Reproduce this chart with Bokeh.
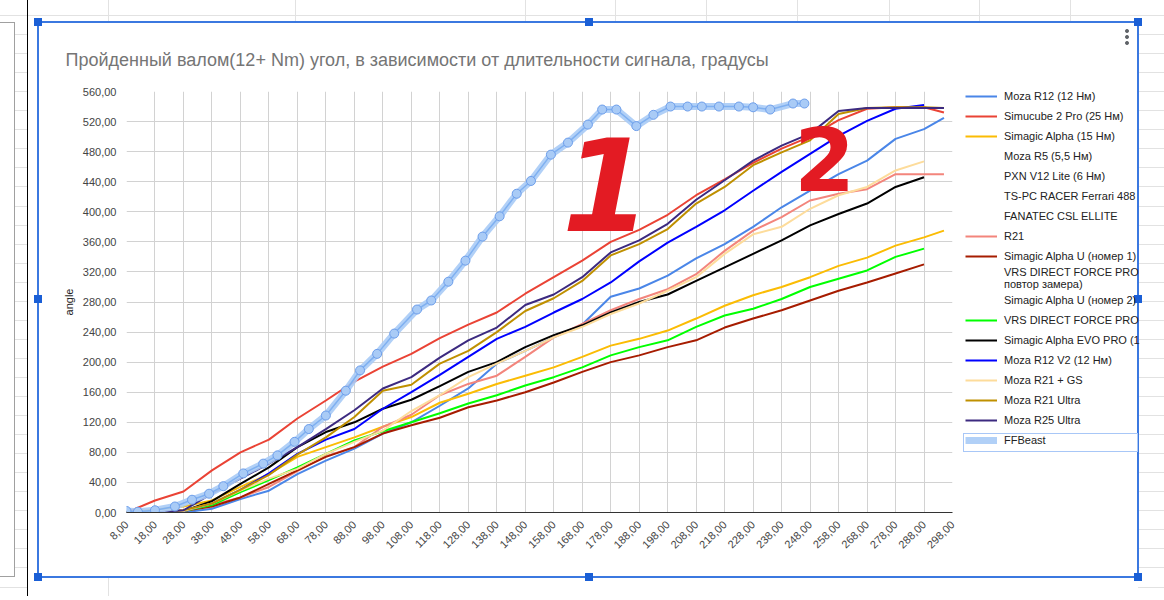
import math
from bokeh.plotting import figure
from bokeh.models import Range1d, FixedTicker, Legend, LegendItem, Label
from bokeh.embed import file_html
from bokeh.resources import INLINE

# ---------------- data ----------------
title_text = "Пройденный валом(12+ Nm) угол, в зависимости от длительности сигнала, градусы"
x_ticks = [8, 18, 28, 38, 48, 58, 68, 78, 88, 98, 108, 118, 128, 138, 148, 158, 168, 178,
           188, 198, 208, 218, 228, 238, 248, 258, 268, 278, 288, 298]
y_ticks = [0, 40, 80, 120, 160, 200, 240, 280, 320, 360, 400, 440, 480, 520, 560]

duration = [8, 18, 28, 38, 48, 58, 68, 78, 88, 98, 108, 118, 128, 138, 148, 158, 168, 178,
            188, 198, 208, 218, 228, 238, 248, 258, 268, 278, 288]
duration_long = [8, 18, 28, 38, 48, 58, 68, 78, 88, 98, 108, 118, 128, 138, 148, 158, 168, 178,
                 188, 198, 208, 218, 228, 238, 248, 258, 268, 278, 288, 295]

moza_r12 = [0, 0, 0, 5, 18, 29, 51, 69, 85, 105, 120, 142, 165, 198, 215, 233, 250, 287, 298, 315,
            338, 357, 380, 406, 428, 450, 468, 497, 510, 525]
simucube = [0, 16, 28, 56, 80, 97, 125, 149, 174, 194, 211, 232, 250, 266, 291, 313, 335, 360, 376, 396,
            422, 443, 465, 484, 500, 522, 537, 539, 539, 532]
simagic_alpha = [0, 4, 8, 16, 34, 51, 74, 87, 100, 114, 127, 146, 158, 171, 182, 193, 207, 222, 231, 242,
                 258, 275, 289, 300, 313, 328, 339, 355, 366, 375]
r21 = [0, 0, 3, 10, 20, 34, 55, 75, 87, 114, 130, 156, 171, 182, 207, 233, 251, 269, 284, 297,
       317, 348, 375, 393, 415, 424, 430, 450, 450, 450]
simagic_u1 = [0, 0, 2, 8, 20, 38, 56, 74, 87, 105, 116, 126, 140, 149, 160, 173, 187, 200, 209, 220,
              229, 246, 258, 269, 282, 295, 306, 318, 330]
vrs = [0, 0, 2, 10, 27, 43, 60, 78, 96, 108, 120, 132, 145, 156, 169, 180, 193, 209, 220, 229,
       247, 262, 271, 284, 300, 311, 322, 340, 351]
evo_pro = [0, 0, 2, 15, 38, 60, 87, 107, 120, 138, 150, 168, 187, 200, 220, 236, 249, 266, 280, 290,
           308, 326, 344, 362, 382, 397, 411, 433, 446]
moza_r12_v2 = [0, 0, 2, 12, 30, 52, 78, 97, 111, 138, 160, 183, 207, 231, 247, 266, 284, 306, 334, 359,
               380, 402, 428, 453, 477, 501, 521, 537, 542]
moza_r21_gs = [0, 0, 2, 12, 29, 45, 58, 78, 94, 109, 135, 156, 180, 198, 215, 233, 247, 264, 278, 295,
               313, 344, 370, 380, 404, 422, 433, 455, 467]
moza_r21_ultra = [0, 0, 3, 12, 30, 50, 77, 100, 127, 162, 170, 198, 215, 240, 268, 285, 308, 342, 357, 377,
                  411, 433, 462, 479, 495, 530, 538, 539, 539, 538]
moza_r25_ultra = [0, 0, 3, 25, 45, 65, 87, 111, 136, 165, 180, 206, 229, 246, 276, 290, 313, 346, 362, 384,
                  416, 442, 468, 488, 504, 534, 538, 538, 538, 538]

ffbeast_x = [8, 12, 18, 25, 31, 37, 42, 49, 56, 61, 67, 72, 78, 85, 90, 96, 102, 110, 115, 121,
             127, 133, 139, 145, 150, 157, 163, 170, 175, 180, 187, 193, 199, 205, 210, 216, 223, 228,
             234, 242, 246]
ffbeast_y = [2, 1, 3, 8, 17, 25, 35, 52, 65, 76, 94, 111, 129, 162, 189, 211, 238, 270, 282, 307,
             335, 367, 394, 424, 441, 476, 492, 516, 536, 536, 514, 529, 540, 540, 540, 540, 540, 539,
             536, 544, 544]

# ---------------- figure ----------------
FONT = "Liberation Sans"
W, H = 1160, 596
FL, FT, FR, FB = 126, 91, 952, 512   # frame edges in page px

# page decoration (spreadsheet cells, chart selection frame) painted as CSS behind a transparent canvas
layers = []
def rect(x, y, w, h, color):
    layers.append(f"linear-gradient({color},{color}) {x}px {y}px / {w}px {h}px no-repeat")

def dot(cx, cy, color):
    layers.append(f"radial-gradient(circle at 3px 3px, {color} 1.5px, rgba(0,0,0,0) 2.3px) "
                  f"{cx - 3}px {cy - 3}px / 6px 6px no-repeat")

for cy in (31, 37, 43):
    dot(1127, cy, "#5f6368")
HANDLE = "#1a5fd6"
for hx, hy in [(38, 22), (589, 22), (1138, 22), (38, 299), (1138, 299),
               (38, 577), (589, 577), (1138, 577)]:
    rect(hx - 4, hy - 4, 8, 8, HANDLE)
rect(964, 434, 173, 17, "#ffffff")          # hovered legend entry
rect(963, 433, 175, 19, "#a8c7f7")
rect(39, 23, 1098, 553, "#ffffff")          # chart area
rect(37, 21, 1102, 557, "#3b78e0")          # selection border
GRID = "#e2e2e2"
for cx in [108, 295, 525, 615, 706, 797, 889, 979, 1070]:
    rect(cx, 0, 1, 22, GRID)
rect(108, 577, 1, 30, GRID)
rect(14, 22, 1, 555, "#a0a0a0")
rect(0, 22, 15, 1, "#a0a0a0")
rect(0, 576, 15, 1, "#a0a0a0")
rect(0, 23, 14, 553, "#ffffff")
rect(27, 0, 1, H, "#000000")
rect(28, 16, 10, H, "#ffffff")
rect(28, 578, 1110, 30, "#ffffff")
layers.append(f"repeating-linear-gradient(to bottom, {GRID} 0px, {GRID} 1px, rgba(0,0,0,0) 1px, "
              f"rgba(0,0,0,0) 19.05px) 0px 15px / 100% 100% no-repeat")

p = figure(frame_width=FR - FL, frame_height=FB - FT, output_backend="svg", toolbar_location=None,
           x_range=Range1d(8, 298), y_range=Range1d(0, 560),
           min_border_left=FL, min_border_right=W - FR, min_border_top=FT, min_border_bottom=H - FB)
p.styles = {"background": ", ".join(layers) + ", #ffffff"}
p.outline_line_color = None
p.background_fill_color = "white"
p.border_fill_color = None

p.title.text = title_text
p.title.align = "left"
p.title.offset = -61
p.title.standoff = 44
p.title.text_font = FONT
p.title.text_font_size = "18px"
p.title.text_font_style = "normal"
p.title.text_color = "#757575"

p.xaxis.ticker = FixedTicker(ticks=x_ticks)
p.yaxis.ticker = FixedTicker(ticks=y_ticks)
p.xaxis.major_label_overrides = {t: f"{t},00" for t in x_ticks}
p.yaxis.major_label_overrides = {t: f"{t},00" for t in y_ticks}
for ax in (p.xaxis[0], p.yaxis[0]):
    ax.major_tick_line_color = None
    ax.minor_tick_line_color = None
    ax.major_label_text_font = FONT
    ax.major_label_text_font_size = "11px"
    ax.major_label_text_color = "#444444"
    ax.major_label_standoff = 4
p.xaxis.major_label_orientation = math.pi / 4
p.xaxis.axis_line_color = "#333333"
p.yaxis.axis_line_color = None
p.yaxis.axis_label = "angle"
p.yaxis.axis_label_text_font = FONT
p.yaxis.axis_label_text_font_size = "11px"
p.yaxis.axis_label_text_font_style = "normal"
p.yaxis.axis_label_text_color = "#222222"
p.yaxis.axis_label_standoff = 5
p.grid.grid_line_color = "#d2d2d2"

series = [
    ("Moza R12 (12 Нм)", duration_long, moza_r12, "#4a86e8"),
    ("Simucube 2 Pro (25 Нм)", duration_long, simucube, "#ea4335"),
    ("Simagic Alpha (15 Нм)", duration_long, simagic_alpha, "#fbbc04"),
    ("Moza R5 (5,5 Нм)", None, None, None),
    ("PXN V12 Lite (6 Нм)", None, None, None),
    ("TS-PC RACER Ferrari 488", None, None, None),
    ("FANATEC CSL ELLITE", None, None, None),
    ("R21", duration_long, r21, "#f3857c"),
    ("Simagic Alpha U (номер 1)", duration, simagic_u1, "#a61c00"),
    ("VRS DIRECT FORCE PRO\nповтор замера)", None, None, None),
    ("Simagic Alpha U (номер 2)", None, None, None),
    ("VRS DIRECT FORCE PRO", duration, vrs, "#00ff00"),
    ("Simagic Alpha EVO PRO (1", duration, evo_pro, "#000000"),
    ("Moza R12 V2 (12 Нм)", duration, moza_r12_v2, "#0000ff"),
    ("Moza R21 + GS", duration, moza_r21_gs, "#fddc9b"),
    ("Moza R21 Ultra", duration_long, moza_r21_ultra, "#bf9000"),
    ("Moza R25 Ultra", duration_long, moza_r25_ultra, "#3c2a80"),
]

items = []
for name, xs, ys, col in series:
    if xs is None:
        r = p.line([], [], line_alpha=0)
    else:
        r = p.line(xs, ys, line_color=col, line_width=2)
    items.append(LegendItem(label=name, renderers=[r]))

# highlighted FFBeast series
fb_band = p.line(ffbeast_x, ffbeast_y, line_color="#a9cbf6", line_width=7, line_alpha=0.9)
p.line(ffbeast_x, ffbeast_y, line_color="#7fb0f0", line_width=1.5)
p.scatter(ffbeast_x, ffbeast_y, marker="circle", size=9, fill_color="#a9cbf6",
          line_color="#6d9eeb", line_width=1)
items.append(LegendItem(label="FFBeast", renderers=[fb_band]))

legend = Legend(items=items, location=(13, 62), spacing=0, padding=0, margin=0,
                glyph_width=32, glyph_height=20, label_height=20, label_standoff=7,
                label_text_font=FONT, label_text_font_size="11px", label_text_color="#222222",
                background_fill_alpha=0, border_line_alpha=0)
p.add_layout(legend, "right")

# hand-drawn marks inside the plot area
def label(X, Y, text, size, font, style):
    p.add_layout(Label(x=X - FL, y=FB - Y, x_units="screen", y_units="screen", text=text,
                       text_font=font, text_font_size=size, text_color="#e31b23",
                       text_align="center", text_baseline="middle", text_font_style=style))

label(606, 183, "1", "128px", "DejaVu Sans", "bold italic")
label(824, 158, "2", "88px", "DejaVu Sans", "bold")

open("out.html", "w").write(file_html(p, INLINE))
